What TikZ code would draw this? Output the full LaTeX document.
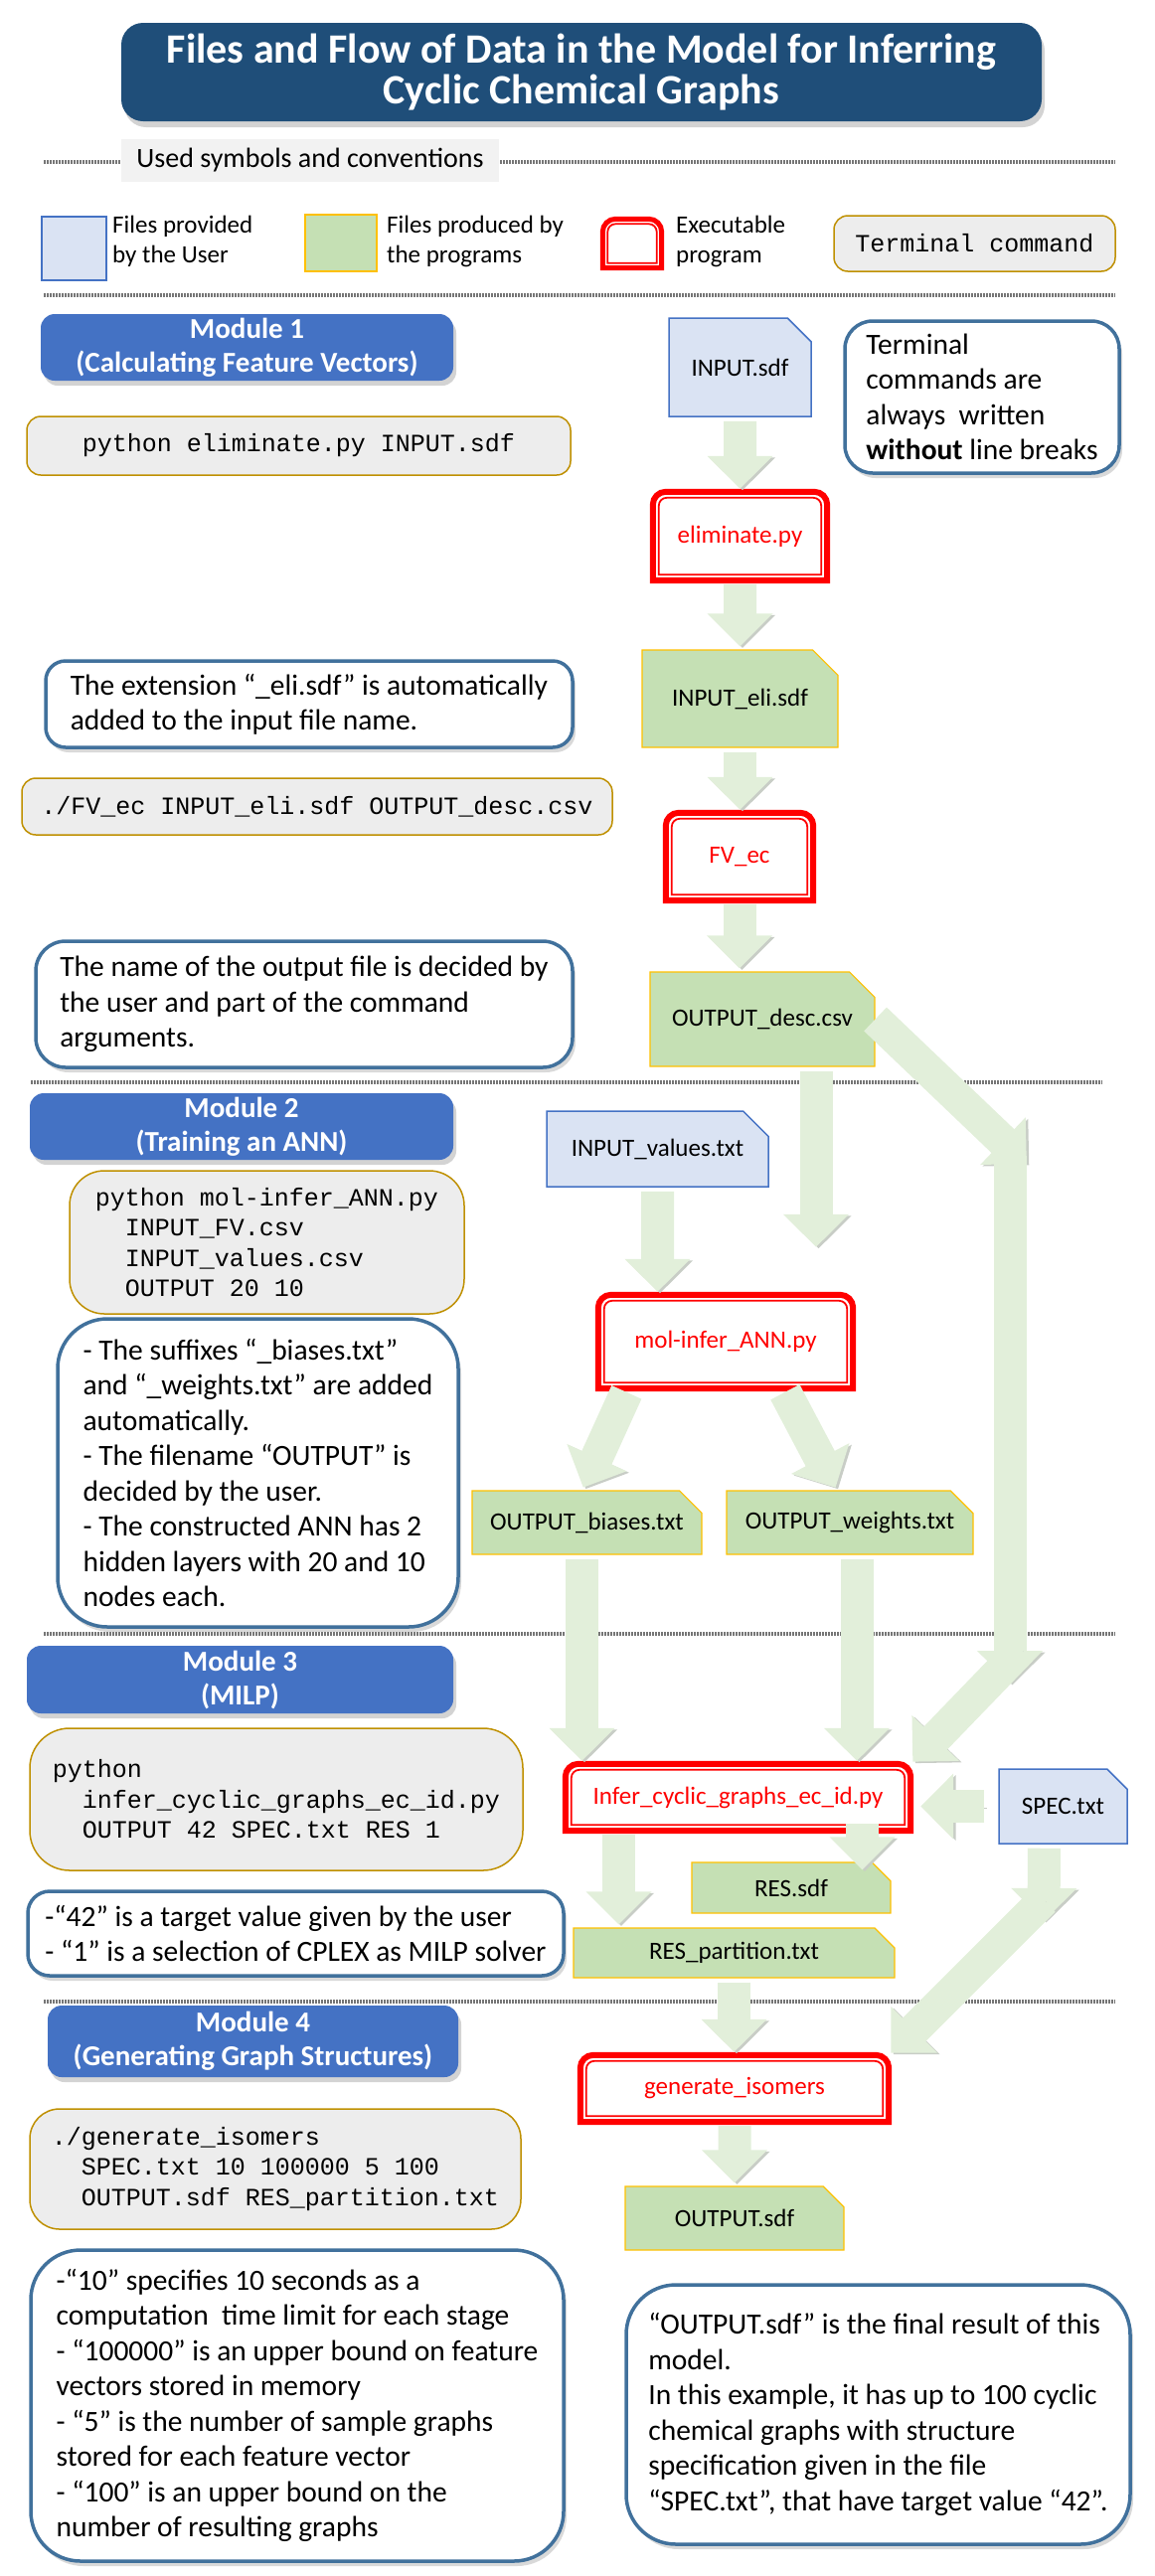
\documentclass[tikz,border=0pt]{standalone}
\usepackage{fontspec}
\setmainfont{Carlito}
\setmonofont{Liberation Mono}
\usetikzlibrary{arrows.meta}
\usetikzlibrary{shapes.misc}
\usetikzlibrary{shadows}

\definecolor{titleblue}{RGB}{31,78,121}
\definecolor{moduleblue}{RGB}{68,114,196}
\definecolor{noteblue}{RGB}{65,113,156}
\definecolor{userfill}{RGB}{218,227,243}
\definecolor{userline}{RGB}{68,114,196}
\definecolor{progfill}{RGB}{197,224,180}
\definecolor{progline}{RGB}{255,192,0}
\definecolor{cmdfill}{RGB}{237,237,237}
\definecolor{cmdline}{RGB}{191,144,0}
\definecolor{execred}{RGB}{255,0,0}
\definecolor{flowgreen}{RGB}{226,239,218}
\definecolor{flowedge}{RGB}{200,205,198}
\definecolor{sepgray}{RGB}{118,118,118}
\definecolor{labelgray}{RGB}{242,242,242}

\newcommand{\titlefont}{\bfseries\fontsize{42}{41}\selectfont}
\newcommand{\modulefont}{\bfseries\fontsize{29}{34}\selectfont}
\newcommand{\notefont}{\fontsize{29.5}{35.5}\selectfont}
\newcommand{\labelfont}{\fontsize{25}{30}\selectfont}
\newcommand{\cmdfont}{\ttfamily\fontsize{25}{30.5}\selectfont}
\newcommand{\cmdindent}{\hspace*{30pt}}

% red frame of a program box: rounded on top, square below
\newcommand{\execframe}[2][6pt]{%
	\draw[execred, line width=#1] (#2.south west) -- (#2.west) [rounded corners=13pt] -- (#2.north west) -- (#2.north east) -- (#2.east) [sharp corners] -- (#2.south east) -- cycle;
	\draw[execred, line width=1.8pt] ([shift={(#1,#1)}]#2.south west) -- ([xshift=#1]#2.west) [rounded corners=8pt] -- ([shift={(#1,-#1)}]#2.north west) -- ([shift={(-#1,-#1)}]#2.north east) -- ([xshift=-#1]#2.east) [sharp corners] -- ([shift={(-#1,#1)}]#2.south east) -- cycle;}

\begin{document}
\begin{tikzpicture}[x=1pt, y=-1pt,
	sep/.style={draw=sepgray, line width=3.5pt, dash pattern=on 1.5pt off 1.5pt},
	flow/.style={draw=flowgreen, line width=33pt, -{Triangle[length=33pt,width=64pt]}, shorten <=4pt, shorten >=3pt,
		preaction={draw=flowedge, transform canvas={shift={(2.5pt,-1.5pt)}}}},
	userdoc/.style={chamfered rectangle, chamfered rectangle corners=north east, chamfered rectangle sep=15pt, fill=userfill, draw=userline, line width=1.5pt, inner sep=0pt, font=\labelfont},
	progdoc/.style={userdoc, fill=progfill, draw=progline, line width=1.2pt},
	prog/.style={rectangle, fill=white, inner sep=0pt, text=execred, font=\labelfont},
	cmd/.style={rectangle, rounded corners=14pt, fill=cmdfill, draw=cmdline, line width=1.5pt, align=left, font=\cmdfont},
	note/.style={rectangle, rounded corners=28pt, fill=white, draw=noteblue, line width=3.5pt, align=left, font=\notefont, drop shadow={shadow xshift=3pt, shadow yshift=-5pt, opacity=.3}},
	module/.style={rectangle, rounded corners=14pt, fill=moduleblue, text=white, align=center, font=\modulefont, drop shadow={shadow xshift=3pt, shadow yshift=-5pt, opacity=.35}}]

	\useasboundingbox (0,0) rectangle (1162,2592);

	\foreach \y in {163, 297, 1644, 2014}
		\draw[sep] (44,\y) -- (1122,\y);
	\draw[sep] (31,1089) -- (1109,1089);

	\node[rectangle, rounded corners=22pt, fill=titleblue, text=white, align=center, font=\titlefont, minimum width=926pt, minimum height=99pt, drop shadow={shadow xshift=3pt, shadow yshift=-6pt, opacity=.35}] (title) at (585,72.5) {Files and Flow of Data in the Model for Inferring\\Cyclic Chemical Graphs};
	\node[rectangle, fill=labelgray, font=\fontsize{28}{33}\selectfont, minimum width=380pt, minimum height=43pt] (symbols) at (312,161.5) {Used symbols and conventions};

	\node[userdoc, chamfered rectangle sep=12pt, minimum width=65pt, minimum height=64pt] (leguser) at (74.5,250) {};
	\node[anchor=west, align=left, inner sep=0pt, font=\labelfont] (legusertext) at (113,243) {Files provided\\by the User};
	\node[progdoc, chamfered rectangle sep=12pt, minimum width=72pt, minimum height=57pt] (legprog) at (343,244.5) {};
	\node[anchor=west, align=left, inner sep=0pt, font=\labelfont] (legprogtext) at (389,243) {Files produced by\\the programs};
	\node[prog, minimum width=59pt, minimum height=49pt] (legexec) at (636,245) {};
	\node[anchor=west, align=left, inner sep=0pt, font=\labelfont] (legexectext) at (680,243) {Executable\\program};
	\node[cmd, minimum width=283pt, minimum height=56pt] (legcmd) at (980.5,245) {Terminal command};

	\node[module, minimum width=415pt, minimum height=67pt] (mod1) at (248.5,349.5) {Module 1\\(Calculating Feature Vectors)};
	\node[cmd, minimum width=547pt, minimum height=59pt] (cmd1) at (300.5,448.5) {python eliminate.py INPUT.sdf};
	\node[userdoc, minimum width=143pt, minimum height=99pt] (input) at (744.5,369.5) {INPUT.sdf};
	\node[note, minimum width=276pt, minimum height=153pt] (termnote) at (988,399.5) {Terminal\\commands are\\always\ \ written\\\textbf{without} line breaks};
	\node[prog, minimum width=175pt, minimum height=89pt] (elim) at (744.5,539.5) {eliminate.py};
	\node[progdoc, minimum width=197pt, minimum height=98pt] (eli) at (744.5,703) {INPUT\_eli.sdf};
	\node[note, rounded corners=20pt, minimum width=530pt, minimum height=87pt] (noteeli) at (311,708.5) {The extension “\_eli.sdf” is automatically\\added to the input file name.};
	\node[cmd, minimum width=594pt, minimum height=57pt] (cmd2) at (319,811.5) {./FV\_ec INPUT\_eli.sdf OUTPUT\_desc.csv};
	\node[prog, minimum width=148pt, minimum height=88pt] (fvec) at (744,862) {FV\_ec};
	\node[progdoc, minimum width=226pt, minimum height=95pt] (desc) at (767,1025.5) {OUTPUT\_desc.csv};
	\node[note, rounded corners=30pt, minimum width=540pt, minimum height=127pt] (notename) at (306,1010.5) {The name of the output file is decided by\\the user and part of the command\\arguments.};

	\node[module, minimum width=426pt, minimum height=67pt] (mod2) at (243,1133.5) {Module 2\\(Training an ANN)};
	\node[cmd, rounded corners=35pt, minimum width=397pt, minimum height=144pt] (cmd3) at (268.5,1250) {python mol-infer\_ANN.py\\\cmdindent INPUT\_FV.csv\\\cmdindent INPUT\_values.csv\\\cmdindent OUTPUT 20 10};
	\node[note, rounded corners=50pt, minimum width=403pt, minimum height=310pt] (noteann) at (259.5,1482) {- The suffixes “\_biases.txt”\\and “\_weights.txt” are added\\automatically.\\- The filename “OUTPUT” is\\decided by the user.\\- The constructed ANN has 2\\hidden layers with 20 and 10\\nodes each.};
	\node[userdoc, minimum width=223pt, minimum height=76pt] (values) at (661.5,1156) {INPUT\_values.txt};
	\node[prog, minimum width=256pt, minimum height=94pt] (mol) at (730,1350) {mol-infer\_ANN.py};
	\node[progdoc, chamfered rectangle sep=12pt, minimum width=231pt, minimum height=64pt] (biases) at (590.5,1532) {OUTPUT\_biases.txt};
	\node[progdoc, chamfered rectangle sep=12pt, minimum width=248pt, minimum height=64pt] (weights) at (855,1532) {OUTPUT\_weights.txt};

	\node[module, minimum width=429pt, minimum height=68pt] (mod3) at (241.5,1690) {Module 3\\(MILP)};
	\node[cmd, rounded corners=40pt, minimum width=496pt, minimum height=143pt] (cmd4) at (278,1810.5) {python\\\cmdindent infer\_cyclic\_graphs\_ec\_id.py\\\cmdindent OUTPUT 42 SPEC.txt RES 1};
	\node[note, rounded corners=22pt, minimum width=539pt, minimum height=85pt] (note42) at (297.5,1945.5) {-“42” is a target value given by the user\\- “1” is a selection of CPLEX as MILP solver};
	\node[prog, minimum width=347pt, minimum height=67pt] (infer) at (742.5,1808.5) {Infer\_cyclic\_graphs\_ec\_id.py};
	\node[userdoc, chamfered rectangle sep=12pt, minimum width=129pt, minimum height=75pt] (spec) at (1069.5,1817.5) {SPEC.txt};
	\node[progdoc, chamfered rectangle sep=10pt, minimum width=200pt, minimum height=51pt] (res) at (796,1899.5) {RES.sdf};
	\node[progdoc, chamfered rectangle sep=10pt, minimum width=323pt, minimum height=50pt] (respart) at (738.5,1965) {RES\_partition.txt};

	\node[module, minimum width=413pt, minimum height=72pt] (mod4) at (254.5,2054) {Module 4\\(Generating Graph Structures)};
	\node[cmd, rounded corners=30pt, minimum width=494pt, minimum height=121pt] (cmd5) at (277,2182.5) {./generate\_isomers\\\cmdindent SPEC.txt 10 100000 5 100\\\cmdindent OUTPUT.sdf RES\_partition.txt};
	\node[note, rounded corners=50pt, minimum width=536pt, minimum height=313pt] (note10) at (299,2420.5) {-“10” specifies 10 seconds as a\\computation\ \ time limit for each stage\\- “100000” is an upper bound on feature\\vectors stored in memory\\- “5” is the number of sample graphs\\stored for each feature vector\\- “100” is an upper bound on the\\number of resulting graphs};
	\node[prog, minimum width=310pt, minimum height=67pt] (generate) at (739,2101.5) {generate\_isomers};
	\node[progdoc, chamfered rectangle sep=12pt, minimum width=220pt, minimum height=64pt] (output) at (739,2232) {OUTPUT.sdf};
	\node[note, rounded corners=50pt, minimum width=507pt, minimum height=261pt] (finalnote) at (883.5,2429.5) {“OUTPUT.sdf” is the final result of this\\model.\\In this example, it has up to 100 cyclic\\chemical graphs with structure\\specification given in the file\\“SPEC.txt”, that have target value “42”.};

	\execframe[5pt]{legexec}
	\execframe{elim}
	\execframe{fvec}
	\execframe{mol}
	\execframe{infer}
	\execframe{generate}

	\coordinate (descout) at (1035,1173);
	\coordinate (descfall) at (1016,1163);
	\coordinate (descdown) at (1016,1697);
	\coordinate (descturn) at (1027,1660);
	\coordinate (specdown) at (1050,1936);
	\coordinate (specturn) at (1050,1912);

	\draw[flow] (input) -- (elim);
	\draw[flow] (elim) -- (eli);
	\draw[flow] (eli.south) -- (eli.south |- fvec.north);
	\draw[flow] (fvec.south) -- (fvec.south |- desc.north);
	\draw[flow] ([xshift=54pt]desc.south) -- ([xshift=91pt,yshift=45pt]mol.north);
	\draw[flow] (values) -- (values |- mol.north);
	\draw[flow, shorten <=0pt] (desc.east) -- (descout);
	\draw[flow, shorten <=0pt] (descfall) -- (descdown);
	\draw[flow, shorten <=0pt] (descturn) -- (infer.north east);
	\draw[flow] ([xshift=-98pt]mol.south) -- ([xshift=-5pt]biases.north);
	\draw[flow] ([xshift=58pt]mol.south) -- ([xshift=-13pt]weights.north);
	\draw[flow] ([xshift=-5pt]biases.south) -- ([xshift=-5pt]biases.south |- infer.north);
	\draw[flow] ([xshift=7pt]weights.south) -- ([xshift=7pt]weights.south |- infer.north);
	\draw[flow] ([xshift=-10pt]spec.west) -- ([xshift=7pt]spec.west -| infer.east);
	\draw[flow, shorten >=-8pt] ([xshift=125pt,yshift=11pt]infer.south) -- ([xshift=125pt]infer.south |- res.north);
	\draw[flow] ([xshift=-120pt]infer.south) -- ([xshift=-120pt]infer.south |- respart.north);
	\draw[flow] (respart.south) -- (respart.south |- generate.north);
	\draw[flow] ([xshift=-19pt]spec.south) -- (specdown);
	\draw[flow, shorten <=0pt] (specturn) -- (generate.north east);
	\draw[flow] (generate) -- (output);

\end{tikzpicture}
\end{document}
